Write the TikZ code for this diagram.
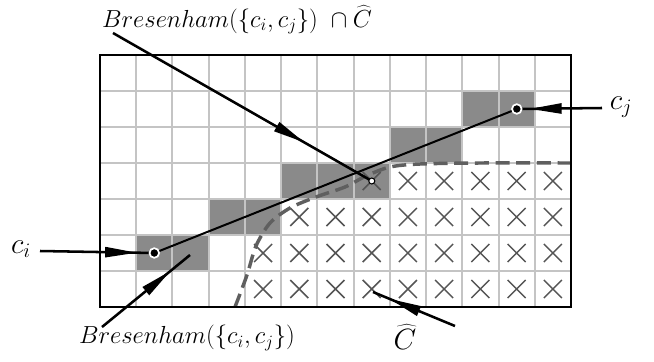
\RequirePackage{fix-cm}
\documentclass[tikz,border=0pt]{standalone}
\usetikzlibrary{arrows.meta,decorations.markings}

\definecolor{cellgray}{RGB}{138,138,138}
\definecolor{gridgray}{RGB}{196,196,196}
\definecolor{curvegray}{RGB}{95,95,95}
\definecolor{crossgray}{RGB}{85,85,85}

\tikzset{every picture/.style={line width=0.75pt}}
\tikzset{
  gridline/.style={color=gridgray, line width=1.5pt},
  cellfill/.style={fill=cellgray},
  crossmark/.style={color=crossgray, line width=1.1pt},
  borderline/.style={line width=1.9pt},
  chatcurve/.style={color=curvegray, line width=2.6pt, dash pattern=on 10.5pt off 5pt},
  segline/.style={line width=1.5pt},
  ptr/.style={line width=1.9pt, postaction={decorate},
    decoration={markings, mark=at position #1 with {\arrow{Triangle[length=24pt,width=7.5pt]}}}},
  lbl/.style={inner sep=0.75pt, font=\fontsize{18.5}{22}\selectfont},
  biglbl/.style={inner sep=0.75pt, font=\fontsize{22}{26}\selectfont},
}

\begin{document}
\begin{tikzpicture}[x=0.75pt,y=0.75pt,yscale=-1,xscale=1]
\path (0,0) rectangle (654,361); %diagram size 654 x 361

% Bresenham cells
\foreach \c/\r in {10/1,11/1,8/2,9/2,5/3,6/3,7/3,3/4,4/4,1/5,2/5}
  \fill[cellfill] ({100+\c*36.23},{55+\r*36}) rectangle ({100+(\c+1)*36.23},{55+(\r+1)*36});

% Grid
\foreach \i in {1,...,12}
  \draw[gridline] ({100+\i*36.23},55) -- ({100+\i*36.23},307);
\foreach \j in {1,...,6}
  \draw[gridline] (100,{55+\j*36}) -- (571,{55+\j*36});

% Crosses of C hat
\foreach \r/\a in {3/7,4/5,5/4,6/4}
  \foreach \c in {\a,...,12} {
    \pgfmathsetmacro\cx{100+(\c+0.5)*36.23}
    \pgfmathsetmacro\cy{55+(\r+0.5)*36}
    \draw[crossmark] (\cx-9,\cy-9) -- (\cx+9,\cy+9) (\cx-9,\cy+9) -- (\cx+9,\cy-9);
  }

% Border of C hat
\draw[chatcurve] plot[smooth] coordinates {(235,307) (247,275) (256,246) (270,223) (290,208) (316,197) (345,187) (366,176) (390,167) (420,164) (480,163) (571,163)};

% Frame
\draw[borderline] (100,55) rectangle (571,307);

% Points
\coordinate (ci) at (154.3,253);
\coordinate (cj) at (516.8,109);
\coordinate (xpt) at (371.8,181);
\coordinate (bcell) at (190,255);
\coordinate (chatx) at (373,292);

\draw[segline] (ci) -- (cj);

% Text Node
\node (lblinter) at (237,20) [lbl] {$Bresenham(\{c_i,c_j\})\ \cap\widehat{C}$};
% Text Node
\node (lblbres) at (187,338) [lbl] {$Bresenham(\{c_i,c_j\})$};
% Text Node
\node (lblci) at (21,249) [biglbl] {$c_i$};
% Text Node
\node (lblcj) at (621,107) [biglbl] {$c_j$};
% Text Node
\node (lblchat) at (405,337) [biglbl] {$\widehat{C}$};

% Pointers
\coordinate (interfoot) at (113,33);
\coordinate (bresfoot) at (102,327);
\coordinate (cifoot) at (40,251);
\coordinate (cjfoot) at (602,108);
\coordinate (chatfoot) at (455,326);

\draw[ptr=0.74] (interfoot) -- (xpt);
\draw[ptr=0.78] (bresfoot) -- (bcell);
\draw[ptr=0.85] (cifoot) -- (ci);
\draw[ptr=0.85] (cjfoot) -- (cj);
\draw[ptr=0.8] (chatfoot) -- (chatx);

% Point marks
\filldraw[draw=white, fill=black, line width=1.3pt] (ci) circle (4.8);
\filldraw[draw=white, fill=black, line width=1.3pt] (cj) circle (4.8);
\filldraw[draw=black, fill=white, line width=0.8pt] (xpt) circle (3);

\end{tikzpicture}
\end{document}
